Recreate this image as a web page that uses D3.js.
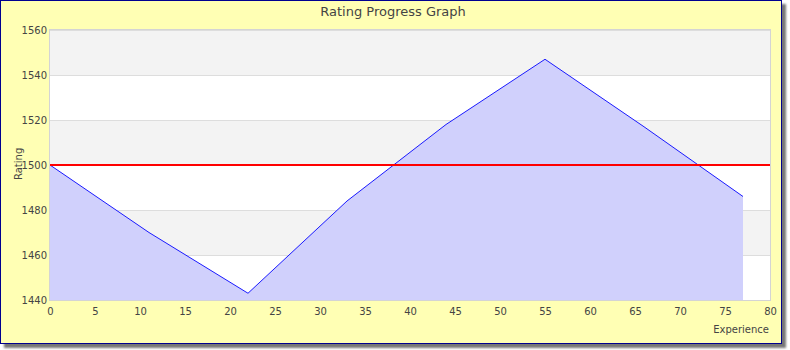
<!DOCTYPE html>
<html>
<head>
<meta charset="utf-8">
<script src="https://cdn.jsdelivr.net/npm/d3@7"></script>
<style>
  body { margin: 0; background: #fff; }
  text { font-family: "DejaVu Sans", sans-serif; fill: #444; }
</style>
</head>
<body>
<div id="wrapper"></div>
<script>
// data
const experience = [0, 11, 22, 33, 44, 55, 66, 77]
const rating = [1500, 1470, 1443, 1484, 1518, 1547, 1517, 1486]
const xTicks = [0, 5, 10, 15, 20, 25, 30, 35, 40, 45, 50, 55, 60, 65, 70, 75, 80]
const yTicks = [1440, 1460, 1480, 1500, 1520, 1540, 1560]
const baseline = 1500

const dimensions = {
    width: 790,
    height: 350,
    frameW: 782,
    frameH: 344,
    margin: { top: 30, right: 20, bottom: 50, left: 50 },
}
dimensions.boundedWidth = dimensions.width - dimensions.margin.left - dimensions.margin.right
dimensions.boundedHeight = dimensions.height - dimensions.margin.top - dimensions.margin.bottom

const svg = d3.select("#wrapper")
    .append("svg")
    .attr("width", dimensions.width)
    .attr("height", dimensions.height)

const defs = svg.append("defs")
defs.append("filter").attr("id", "blur")
    .append("feGaussianBlur").attr("stdDeviation", 1.2)

// frame with drop shadow
svg.append("rect")
    .attr("x", 4).attr("y", 4)
    .attr("width", dimensions.frameW).attr("height", dimensions.frameH)
    .attr("fill", "#777")
    .attr("filter", "url(#blur)")
svg.append("rect")
    .attr("x", 0.5).attr("y", 0.5)
    .attr("width", dimensions.frameW - 1).attr("height", dimensions.frameH - 1)
    .attr("fill", "#ffffb4")
    .attr("stroke", "#000090")

const bounds = svg.append("g")
    .attr("transform", `translate(${dimensions.margin.left},${dimensions.margin.top})`)

const xScale = d3.scaleLinear()
    .domain([0, 80])
    .range([0, dimensions.boundedWidth])

const yScale = d3.scaleLinear()
    .domain([1440, 1560])
    .range([dimensions.boundedHeight, 0])

// alternating bands
const bands = d3.pairs(yTicks)
bounds.append("g").selectAll("rect")
    .data(bands)
    .join("rect")
    .attr("x", 0)
    .attr("width", dimensions.boundedWidth)
    .attr("y", d => yScale(d[1]))
    .attr("height", d => yScale(d[0]) - yScale(d[1]))
    .attr("fill", (d, i) => (bands.length - 1 - i) % 2 === 0 ? "#f3f3f3" : "#ffffff")

// grid lines
bounds.append("g").selectAll("line")
    .data(yTicks)
    .join("line")
    .attr("x1", 0).attr("x2", dimensions.boundedWidth)
    .attr("y1", d => Math.round(yScale(d)) + 0.5)
    .attr("y2", d => Math.round(yScale(d)) + 0.5)
    .attr("stroke", "#dddddd")

// plot border
bounds.append("rect")
    .attr("x", -0.5).attr("y", -0.5)
    .attr("width", dimensions.boundedWidth + 1)
    .attr("height", dimensions.boundedHeight + 1)
    .attr("fill", "none")
    .attr("stroke", "#d4d4d4")

const area = d3.area()
    .x((d, i) => xScale(experience[i]))
    .y0(yScale(1440))
    .y1(d => yScale(d))

bounds.append("path")
    .datum(rating)
    .attr("d", area)
    .attr("fill", "#d0d0fc")

const line = d3.line()
    .x((d, i) => xScale(experience[i]))
    .y(d => yScale(d))

bounds.append("path")
    .datum(rating)
    .attr("d", line)
    .attr("fill", "none")
    .attr("stroke", "#1a1aff")
    .attr("stroke-width", 1)

// reference line
bounds.append("line")
    .attr("x1", 0).attr("x2", dimensions.boundedWidth)
    .attr("y1", yScale(baseline)).attr("y2", yScale(baseline))
    .attr("stroke", "#ff0000")
    .attr("stroke-width", 2)

// axes
const xAxis = bounds.append("g")
    .attr("transform", `translate(0,${dimensions.boundedHeight})`)
    .call(d3.axisBottom(xScale).tickValues(xTicks).tickFormat(d3.format("d")).tickSize(0).tickPadding(8))
xAxis.select(".domain").remove()
xAxis.selectAll("text")
    .style("font-size", "10px")
    .attr("fill", "#444")

const yAxis = bounds.append("g")
    .call(d3.axisLeft(yScale).tickValues(yTicks).tickFormat(d3.format("d")).tickSize(0).tickPadding(3))
yAxis.select(".domain").remove()
yAxis.selectAll("text")
    .style("font-size", "10px")
    .attr("fill", "#444")

svg.append("text")
    .attr("x", 393)
    .attr("y", 16)
    .attr("text-anchor", "middle")
    .style("font-size", "13px")
    .text("Rating Progress Graph")

svg.append("text")
    .attr("x", 769)
    .attr("y", 333)
    .attr("text-anchor", "end")
    .style("font-size", "10px")
    .text("Experience")

svg.append("text")
    .attr("transform", "translate(22,180) rotate(-90)")
    .style("font-size", "10px")
    .text("Rating")
</script>
</body>
</html>
